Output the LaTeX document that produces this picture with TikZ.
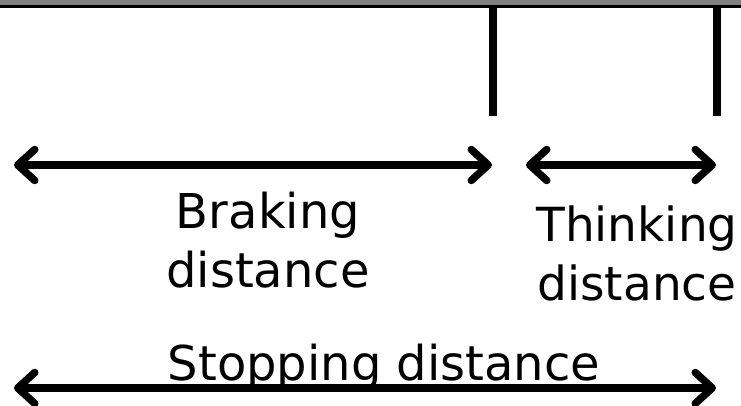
\documentclass[tikz,border=0pt]{standalone}
\usepackage{fontspec}
\setmainfont{DejaVu Sans}
\usetikzlibrary{arrows.meta}
\begin{document}
\begin{tikzpicture}[x=1pt,y=-1pt,
  bar/.style={line width=8pt},
  dimarrow/.style={line width=7.5pt,{Straight Barb[round,length=17pt,width=31pt]}-{Straight Barb[round,length=17pt,width=31pt]}},
  lbl/.style={inner sep=0pt,align=center,font=\fontsize{48}{59}\selectfont}]
\useasboundingbox (0,0) rectangle (741,406);
\fill[gray] (0,0) rectangle (741,5);
\fill[black] (0,5) rectangle (741,8);
\coordinate (v1t) at (493,6);
\coordinate (v1b) at (493,116);
\coordinate (v2t) at (717,6);
\coordinate (v2b) at (717,116);
\draw[bar] (v1t) -- (v1b);
\draw[bar] (v2t) -- (v2b);
\coordinate (bl) at (14,165);
\coordinate (br) at (492,165);
\coordinate (tl) at (526,165);
\coordinate (tr) at (716,165);
\coordinate (sl) at (14,388);
\coordinate (sr) at (716,388);
\draw[dimarrow] (bl) -- (br);
\draw[dimarrow] (tl) -- (tr);
\node[lbl,anchor=base] (brk) at (268,287) {Braking\\distance};
\node[lbl,anchor=base,font=\fontsize{47}{59}\selectfont] (thk) at (637,300) {Thinking\\distance};
\node[lbl,anchor=base] (stp) at (384,380) {Stopping distance};
\draw[dimarrow] (sl) -- (sr);
\end{tikzpicture}
\end{document}
